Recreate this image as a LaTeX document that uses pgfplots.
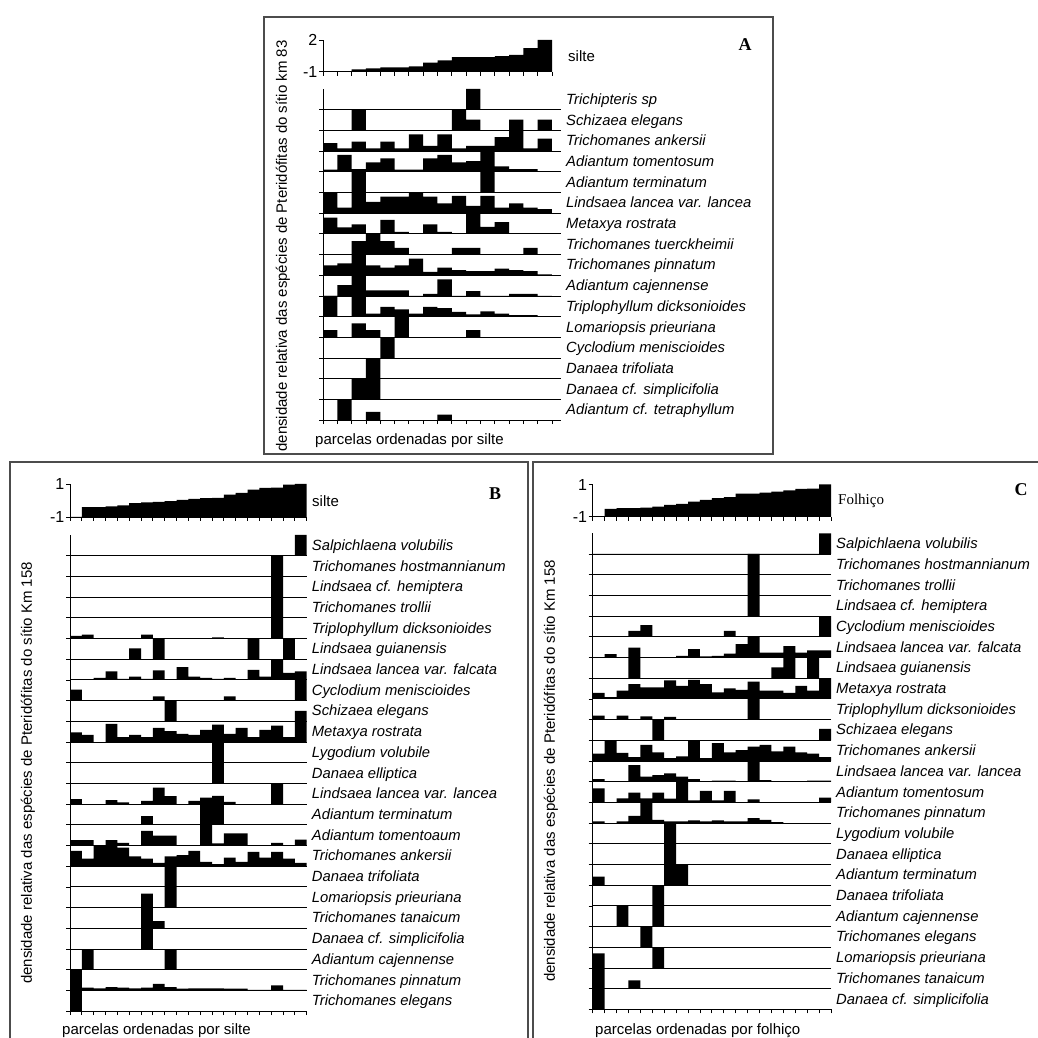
\documentclass[border=0pt]{standalone}
\usepackage{fontspec}
\setmainfont{Liberation Sans}
\newfontfamily\seriffont{Liberation Serif}
\usepackage{pgfplots}
\pgfplotsset{compat=1.18}

\newcommand\spfont{\fontsize{14.8}{16}\selectfont\itshape}
\newcommand\labfont{\fontsize{15}{17}\selectfont}
\newcommand\tickfont{\fontsize{16}{17}\selectfont}
\def\rowh{20.7}

\pgfplotsset{
  base/.style={scale only axis, clip=false, axis lines*=left,
    axis line style={line width=0.9pt, black},
    tick style={line width=0.8pt, black},
    tick align=outside, major tick length=4pt, xmin=0},
  rowax/.style={base, height=\rowh pt, ymin=0, ymax=1, xtick=\empty, ytick={0}, yticklabels={}},
  lastrow/.style={xtick={0,...,#1}, xticklabels={}},
  pA/.style={width=238pt, xmax=16.63},
  pB/.style={width=236.7pt, xmax=20},
  pC/.style={width=238.3pt, xmax=20},
  topax/.style={base, xtick={0,...,#1}, xticklabels={}, xmax=#1, ymin=0,
    yticklabel style={font=\tickfont, inner sep=1.5pt}},
}

\newcommand\srow[4]{%
  \path (\pX,{1037-(\pY+#2*\rowh)}) coordinate (rowpos);
  \begin{axis}[rowax, #1, at={(rowpos)}, anchor=north west]
    \addplot[ybar, bar width=1, fill=black, draw=none]
      table[header=false, row sep=\\, x expr=\coordindex+0.5, y index=0] {#3};
    \node[anchor=base west, inner sep=0pt, font=\spfont, xshift=5pt, yshift=-5pt]
      at (rel axis cs:1,0.5) {#4};
  \end{axis}}

\begin{document}
\begin{tikzpicture}[x=1pt,y=1pt]
\useasboundingbox (0,0) rectangle (1038,1037);
% frames
\draw[line width=1.3pt, black!70] (264,{1037-17}) rectangle (773,{1037-454});
\draw[line width=1.3pt, black!70] (10,{1037-462}) rectangle (528,-20);
\draw[line width=1.3pt, black!70] (533,{1037-462}) rectangle (1070,-20);

% ================= PANEL A =================
\path (323,{1037-40}) coordinate (topA);
\begin{axis}[topax=16, width=229pt, height=31.7pt, ymax=3,
  at={(topA)}, anchor=north west,
  ytick={0,3}, yticklabels={\mbox{-1},\mbox{2}}]
  \addplot[ybar, bar width=1, fill=black, draw=none]
    table[header=false, row sep=\\, x expr=\coordindex+0.5, y index=0]
    {0\\0\\0.22\\0.32\\0.41\\0.41\\0.5\\0.85\\1.07\\1.39\\1.39\\1.39\\1.48\\1.58\\2.24\\3\\};
\end{axis}
\node[anchor=west, font=\labfont, inner sep=0pt] at (568,{1037-56}) {silte};
\node[font=\seriffont\bfseries\fontsize{18}{18}\selectfont] at (745,{1037-45}) {A};
\node[rotate=90, font=\labfont] at (283,{1037-246}) {densidade relativa das espécies de Pteridófitas do sítio km 83};
\node[anchor=base west, font=\labfont, inner sep=0pt] at (315,{1037-445}) {parcelas ordenadas por silte};

\def\pX{323}\def\pY{89}
\srow{pA}{0}{0\\0\\0\\0\\0\\0\\0\\0\\0\\0\\1\\0\\0\\0\\0\\0\\}{Trichipteris sp}
\srow{pA}{1}{0\\0\\1\\0\\0\\0\\0\\0\\0\\1\\0.52\\0\\0\\0.52\\0\\0.52\\}{Schizaea elegans}
\srow{pA}{2}{0.38\\0.13\\0.46\\0.13\\0.46\\0.13\\0.81\\0.25\\0.81\\0.13\\0.25\\0.25\\0.68\\1\\0.13\\0.6\\}{Trichomanes ankersii}
\srow{pA}{3}{0.1\\0.82\\0.13\\0.45\\0.65\\0.1\\0.1\\0.65\\0.82\\0.45\\0.52\\1\\0.26\\0.13\\0.13\\0\\}{Adiantum tomentosum}
\srow{pA}{4}{0\\0\\1\\0\\0\\0\\0\\0\\0\\0\\0\\1\\0\\0\\0\\0\\}{Adiantum terminatum}
\srow{pA}{5}{1\\0.27\\1\\0.55\\0.8\\0.8\\1\\0.8\\0.47\\0.84\\0.35\\0.84\\0.27\\0.47\\0.27\\0.2\\}{Lindsaea lancea var. lancea}
\srow{pA}{6}{0.79\\0.32\\0.46\\0\\0.68\\0.1\\0\\0.46\\0.1\\0\\1\\0.34\\0.57\\0\\0\\0\\}{Metaxya rostrata}
\srow{pA}{7}{0\\0\\0.65\\1\\0.65\\0.32\\0\\0\\0\\0.32\\0.32\\0\\0\\0\\0.32\\0\\}{Trichomanes tuerckheimii}
\srow{pA}{8}{0.48\\0.57\\1\\0.48\\0.37\\0.48\\0.8\\0.16\\0.37\\0.25\\0.2\\0.2\\0.32\\0.25\\0.2\\0.05\\}{Trichomanes pinnatum}
\srow{pA}{9}{0\\0.53\\1\\0.27\\0.27\\0.27\\0\\0.1\\0.8\\0\\0.24\\0\\0\\0.1\\0.1\\0\\}{Adiantum cajennense}
\srow{pA}{10}{1\\0\\1\\0.15\\0.48\\0.35\\0.15\\0.48\\0.42\\0.23\\0.11\\0.26\\0.15\\0.08\\0.08\\0.03\\}{Triplophyllum dicksonioides}
\srow{pA}{11}{0.35\\0\\0.68\\0.35\\0\\1\\0\\0\\0\\0\\0.35\\0\\0\\0\\0\\0\\}{Lomariopsis prieuriana}
\srow{pA}{12}{0\\0\\0\\0\\1\\0\\0\\0\\0\\0\\0\\0\\0\\0\\0\\0\\}{Cyclodium meniscioides}
\srow{pA}{13}{0\\0\\0\\1\\0\\0\\0\\0\\0\\0\\0\\0\\0\\0\\0\\0\\}{Danaea trifoliata}
\srow{pA}{14}{0\\0\\1\\1\\0\\0\\0\\0\\0\\0\\0\\0\\0\\0\\0\\0\\}{Danaea cf. simplicifolia}
\srow{pA,lastrow=16}{15}{0\\1\\0\\0.4\\0\\0\\0\\0\\0.27\\0\\0\\0\\0\\0\\0\\0\\}{Adiantum cf. tetraphyllum}

% ================= PANEL B =================
\path (70,{1037-484}) coordinate (topB);
\begin{axis}[topax=20, width=236.7pt, height=33pt, ymax=2,
  at={(topB)}, anchor=north west,
  ytick={0,2}, yticklabels={\mbox{-1},\mbox{1}}]
  \addplot[ybar, bar width=1, fill=black, draw=none]
    table[header=false, row sep=\\, x expr=\coordindex+0.5, y index=0]
    {0\\0.6\\0.6\\0.64\\0.7\\0.84\\0.88\\0.92\\0.96\\1.04\\1.1\\1.14\\1.16\\1.36\\1.46\\1.66\\1.76\\1.78\\1.96\\2\\};
\end{axis}
\node[anchor=west, font=\labfont, inner sep=0pt] at (312,{1037-501}) {silte};
\node[font=\seriffont\bfseries\fontsize{18}{18}\selectfont] at (495,{1037-494}) {B};
\node[rotate=90, font=\labfont] at (28,{1037-773}) {densidade relativa das espécies de Pteridófitas do sítio Km 158};
\node[anchor=base west, font=\labfont, inner sep=0pt] at (62,{1037-1034}) {parcelas ordenadas por silte};

\def\pX{70}\def\pY{535}
\srow{pB}{0}{0\\0\\0\\0\\0\\0\\0\\0\\0\\0\\0\\0\\0\\0\\0\\0\\0\\0\\0\\1\\}{Salpichlaena volubilis}
\srow{pB}{1}{0\\0\\0\\0\\0\\0\\0\\0\\0\\0\\0\\0\\0\\0\\0\\0\\0\\1\\0\\0\\}{Trichomanes hostmannianum}
\srow{pB}{2}{0\\0\\0\\0\\0\\0\\0\\0\\0\\0\\0\\0\\0\\0\\0\\0\\0\\1\\0\\0\\}{Lindsaea cf. hemiptera}
\srow{pB}{3}{0\\0\\0\\0\\0\\0\\0\\0\\0\\0\\0\\0\\0\\0\\0\\0\\0\\1\\0\\0\\}{Trichomanes trollii}
\srow{pB}{4}{0.13\\0.19\\0\\0\\0\\0\\0.19\\0\\0\\0\\0\\0\\0.05\\0\\0\\0\\0\\1\\0\\0\\}{Triplophyllum dicksonioides}
\srow{pB}{5}{0\\0\\0\\0\\0\\0.52\\0\\1\\0\\0\\0\\0\\0\\0\\0\\1\\0\\0\\1\\0\\}{Lindsaea guianensis}
\srow{pB}{6}{0\\0\\0.1\\0.41\\0.05\\0.16\\0.05\\0.46\\0\\0.62\\0.16\\0.1\\0.05\\0.1\\0\\0.49\\0.16\\1\\0.34\\0.41\\}{Lindsaea lancea var. falcata}
\srow{pB}{7}{0.53\\0\\0\\0\\0\\0\\0\\0.21\\0\\0\\0\\0\\0\\0.21\\0\\0\\0\\0\\0\\1\\}{Cyclodium meniscioides}
\srow{pB}{8}{0\\0\\0\\0\\0\\0\\0\\0\\1\\0\\0\\0\\0\\0\\0\\0\\0\\0\\0\\0.5\\}{Schizaea elegans}
\srow{pB}{9}{0.47\\0.35\\0\\0.87\\0.23\\0.34\\0.23\\0.68\\0.52\\0.39\\0.35\\0.58\\0.84\\0.39\\0.68\\0.23\\0.58\\0.79\\0.23\\1\\}{Metaxya rostrata}
\srow{pB}{10}{0\\0\\0\\0\\0\\0\\0\\0\\0\\0\\0\\0\\1\\0\\0\\0\\0\\0\\0\\0\\}{Lygodium volubile}
\srow{pB}{11}{0\\0\\0\\0\\0\\0\\0\\0\\0\\0\\0\\0\\1\\0\\0\\0\\0\\0\\0\\0\\}{Danaea elliptica}
\srow{pB}{12}{0.24\\0\\0\\0.19\\0.08\\0\\0.16\\0.8\\0.39\\0\\0.16\\0.31\\0.4\\0.11\\0\\0\\0\\1\\0\\0\\}{Lindsaea lancea var. lancea}
\srow{pB}{13}{0\\0\\0\\0\\0\\0\\0.42\\0\\0\\0\\0\\1\\1\\0\\0\\0\\0\\0\\0\\0\\}{Adiantum terminatum}
\srow{pB}{14}{0.26\\0.26\\0\\0.26\\0.13\\0\\0.71\\0.48\\0.48\\0\\0\\1\\0.1\\0.58\\0.58\\0\\0\\0.13\\0\\0.29\\}{Adiantum tomentoaum}
\srow{pB}{15}{0.74\\0.37\\1\\1\\0.9\\0.48\\0.37\\0.16\\0.48\\0.53\\0.74\\0.21\\0.1\\0.42\\0.21\\0.69\\0.42\\0.69\\0.37\\0.16\\}{Trichomanes ankersii}
\srow{pB}{16}{0\\0\\0\\0\\0\\0\\0\\0\\1\\0\\0\\0\\0\\0\\0\\0\\0\\0\\0\\0\\}{Danaea trifoliata}
\srow{pB}{17}{0\\0\\0\\0\\0\\0\\0.68\\0\\1\\0\\0\\0\\0\\0\\0\\0\\0\\0\\0\\0\\}{Lomariopsis prieuriana}
\srow{pB}{18}{0\\0\\0\\0\\0\\0\\1\\0.35\\0\\0\\0\\0\\0\\0\\0\\0\\0\\0\\0\\0\\}{Trichomanes tanaicum}
\srow{pB}{19}{0\\0\\0\\0\\0\\0\\1\\0\\0\\0\\0\\0\\0\\0\\0\\0\\0\\0\\0\\0\\}{Danaea cf. simplicifolia}
\srow{pB}{20}{0\\1\\0\\0\\0\\0\\0\\0\\1\\0\\0\\0\\0\\0\\0\\0\\0\\0\\0\\0\\}{Adiantum cajennense}
\srow{pB}{21}{1\\0.13\\0.1\\0.16\\0.13\\0.1\\0.13\\0.32\\0.16\\0.08\\0.1\\0.1\\0.1\\0.08\\0.08\\0.03\\0.03\\0.24\\0.03\\0.03\\}{Trichomanes pinnatum}
\srow{pB,lastrow=20}{22}{1\\0\\0\\0\\0\\0\\0\\0\\0\\0\\0\\0\\0\\0\\0\\0\\0\\0\\0\\0\\}{Trichomanes elegans}

% ================= PANEL C =================
\path (592.7,{1037-484.5}) coordinate (topC);
\begin{axis}[topax=20, width=238.3pt, height=32.2pt, ymax=2,
  at={(topC)}, anchor=north west,
  ytick={0,2}, yticklabels={\mbox{-1},\mbox{1}}]
  \addplot[ybar, bar width=1, fill=black, draw=none]
    table[header=false, row sep=\\, x expr=\coordindex+0.5, y index=0]
    {0\\0.48\\0.53\\0.53\\0.57\\0.63\\0.74\\0.8\\0.93\\1.05\\1.16\\1.22\\1.43\\1.43\\1.49\\1.56\\1.64\\1.73\\1.75\\2\\};
\end{axis}
\node[anchor=west, font=\seriffont\fontsize{15}{17}\selectfont, inner sep=0pt] at (838,{1037-501}) {Folhiço};
\node[font=\seriffont\bfseries\fontsize{18}{18}\selectfont] at (1021,{1037-490}) {C};
\node[rotate=90, font=\labfont] at (551,{1037-771}) {densidade relativa das espécies de Pteridófitas do sítio Km 158};
\node[anchor=base west, font=\labfont, inner sep=0pt] at (595,{1037-1034}) {parcelas ordenadas por folhiço};

\def\pX{592.7}\def\pY{533.3}
\srow{pC}{0}{0\\0\\0\\0\\0\\0\\0\\0\\0\\0\\0\\0\\0\\0\\0\\0\\0\\0\\0\\1\\}{Salpichlaena volubilis}
\srow{pC}{1}{0\\0\\0\\0\\0\\0\\0\\0\\0\\0\\0\\0\\0\\1\\0\\0\\0\\0\\0\\0\\}{Trichomanes hostmannianum}
\srow{pC}{2}{0\\0\\0\\0\\0\\0\\0\\0\\0\\0\\0\\0\\0\\1\\0\\0\\0\\0\\0\\0\\}{Trichomanes trollii}
\srow{pC}{3}{0\\0\\0\\0\\0\\0\\0\\0\\0\\0\\0\\0\\0\\1\\0\\0\\0\\0\\0\\0\\}{Lindsaea cf. hemiptera}
\srow{pC}{4}{0\\0\\0\\0.29\\0.56\\0\\0\\0\\0\\0\\0\\0.29\\0\\0\\0\\0\\0\\0\\0\\1\\}{Cyclodium meniscioides}
\srow{pC}{5}{0\\0.16\\0\\0.48\\0\\0\\0\\0.08\\0.4\\0.05\\0.08\\0.19\\0.65\\1\\0.24\\0.24\\0.55\\0.24\\0.35\\0.35\\}{Lindsaea lancea var. falcata}
\srow{pC}{6}{0\\0\\0\\1\\0\\0\\0\\0\\0\\0\\0\\0\\0\\0\\0\\0.52\\1\\0\\1\\0\\}{Lindsaea guianensis}
\srow{pC}{7}{0.29\\0.08\\0.4\\0.71\\0.56\\0.56\\0.9\\0.63\\0.92\\0.71\\0.32\\0.51\\0.44\\0.84\\0.4\\0.4\\0.29\\0.63\\0.4\\1\\}{Metaxya rostrata}
\srow{pC}{8}{0.19\\0\\0.19\\0\\0.16\\0\\0.13\\0\\0\\0\\0\\0\\0\\1\\0\\0\\0\\0\\0\\0\\}{Triplophyllum dicksonioides}
\srow{pC}{9}{0\\0\\0\\0\\0\\1\\0\\0\\0\\0\\0\\0\\0\\0\\0\\0\\0\\0\\0\\0.55\\}{Schizaea elegans}
\srow{pC}{10}{0.36\\1\\0.39\\0.19\\0.78\\0.42\\0.14\\0.22\\1\\0.14\\0.86\\0.42\\0.53\\0.69\\0.78\\0.47\\0.69\\0.42\\0.36\\0.19\\}{Trichomanes ankersii}
\srow{pC}{11}{0.13\\0\\0\\0.8\\0.24\\0.32\\0.4\\0.24\\0.13\\0\\0.05\\0.05\\0\\1\\0.08\\0\\0\\0\\0.05\\0.05\\}{Lindsaea lancea var. lancea}
\srow{pC}{12}{0.68\\0\\0.19\\0.47\\0.19\\0.47\\0.18\\1\\0.1\\0.56\\0.1\\0.56\\0\\0.15\\0\\0\\0\\0\\0\\0.23\\}{Adiantum tomentosum}
\srow{pC}{13}{0.08\\0\\0.08\\0.35\\1\\0.16\\0.08\\0.08\\0.13\\0.08\\0.13\\0.08\\0.08\\0.24\\0.16\\0.05\\0\\0\\0\\0\\}{Trichomanes pinnatum}
\srow{pC}{14}{0\\0\\0\\0\\0\\0\\1\\0\\0\\0\\0\\0\\0\\0\\0\\0\\0\\0\\0\\0\\}{Lygodium volubile}
\srow{pC}{15}{0\\0\\0\\0\\0\\0\\1\\0\\0\\0\\0\\0\\0\\0\\0\\0\\0\\0\\0\\0\\}{Danaea elliptica}
\srow{pC}{16}{0.42\\0\\0\\0\\0\\0\\1\\1\\0\\0\\0\\0\\0\\0\\0\\0\\0\\0\\0\\0\\}{Adiantum terminatum}
\srow{pC}{17}{0\\0\\0\\0\\0\\1\\0\\0\\0\\0\\0\\0\\0\\0\\0\\0\\0\\0\\0\\0\\}{Danaea trifoliata}
\srow{pC}{18}{0\\0\\1\\0\\0\\1\\0\\0\\0\\0\\0\\0\\0\\0\\0\\0\\0\\0\\0\\0\\}{Adiantum cajennense}
\srow{pC}{19}{0\\0\\0\\0\\1\\0\\0\\0\\0\\0\\0\\0\\0\\0\\0\\0\\0\\0\\0\\0\\}{Trichomanes elegans}
\srow{pC}{20}{0.71\\0\\0\\0\\0\\1\\0\\0\\0\\0\\0\\0\\0\\0\\0\\0\\0\\0\\0\\0\\}{Lomariopsis prieuriana}
\srow{pC}{21}{1\\0\\0\\0.4\\0\\0\\0\\0\\0\\0\\0\\0\\0\\0\\0\\0\\0\\0\\0\\0\\}{Trichomanes tanaicum}
\srow{pC,lastrow=20}{22}{1\\0\\0\\0\\0\\0\\0\\0\\0\\0\\0\\0\\0\\0\\0\\0\\0\\0\\0\\0\\}{Danaea cf. simplicifolia}
\end{tikzpicture}
\end{document}
